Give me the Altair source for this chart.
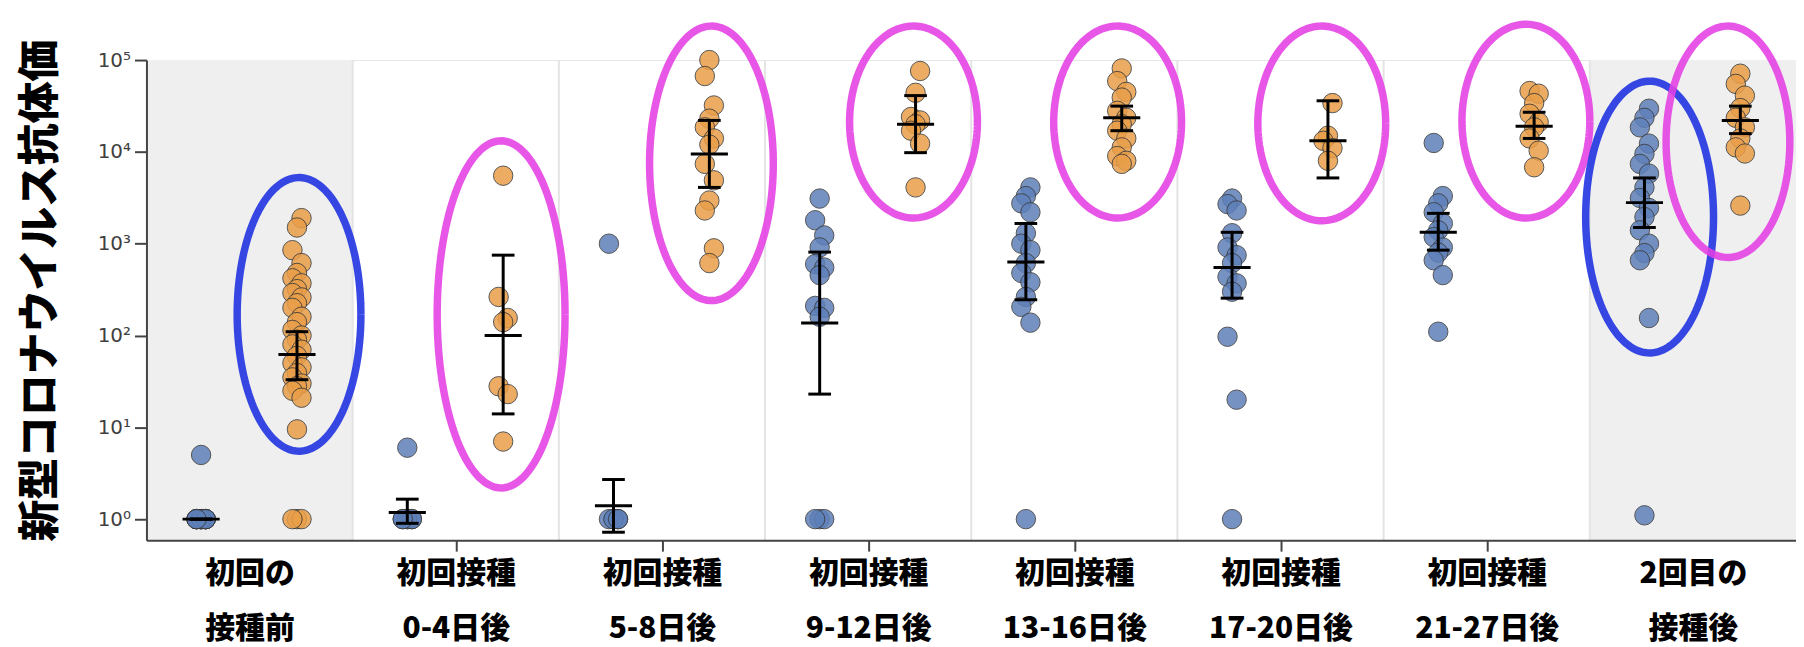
import altair as alt
import pandas as pd

# ---- categories / labels ----
label_top = ["初回の", "初回接種", "初回接種", "初回接種", "初回接種", "初回接種", "初回接種", "2回目の"]
label_bottom = ["接種前", "0-4日後", "5-8日後", "9-12日後", "13-16日後", "17-20日後", "21-27日後", "接種後"]
y_title = "新型コロナウイルス抗体価"
y_ticks = [1, 10, 100, 1000, 10000, 100000]

# ---- individual antibody titers (blue = series A, orange = series B) ----
blue_vals = [
    [1, 1, 1, 1, 1, 1, 1, 1, 1, 1, 1, 1, 5],
    [1, 1, 1, 1, 1, 1, 6],
    [1, 1, 1, 1, 1, 1000],
    [3100, 1800, 1230, 910, 600, 550, 455, 210, 200, 160, 1, 1, 1],
    [4100, 3300, 2750, 2200, 1300, 1000, 850, 615, 480, 380, 263, 205, 138, 1],
    [3100, 2700, 2300, 1300, 910, 750, 615, 435, 370, 300, 97, 20, 1],
    [12500, 3300, 2750, 2200, 1660, 1400, 1180, 910, 800, 660, 455, 110],
    [29500, 23500, 18500, 12300, 9500, 7400, 5800, 4100, 3150, 2450, 1950, 1400,
     1000, 790, 660, 155, 1.1],
]
orange_vals = [
    [1900, 1500, 850, 615, 480, 420, 370, 320, 290, 260, 225, 200, 160, 140, 115,
     100, 90, 80, 70, 60, 50, 45, 39, 35, 30, 28, 25, 21, 9.5, 1, 1, 1],
    [5500, 263, 155, 140, 28, 23, 7],
    [100000, 67000, 32000, 23000, 18500, 14000, 12000, 7400, 4900, 2950, 2300, 890, 615],
    [76000, 44000, 24000, 22000, 20000, 17000, 12300, 4100],
    [81000, 59000, 45000, 39000, 28000, 23500, 20000, 17000, 14000, 11200, 9000, 8000, 7400],
    [34000, 15000, 13200, 11000, 8000],
    [46000, 43000, 34000, 26000, 21000, 18500, 14000, 10300, 6800],
    [71000, 55000, 41000, 30000, 23500, 18500, 14000, 11200, 9600, 2600],
]

# ---- geometric means and 95% CI ----
blue_mean = [1, 1.18, 1.4, 137, 630, 550, 1330, 2800]
blue_lo = [1, 0.9, 0.72, 23, 245, 255, 850, 1500]
blue_hi = [1, 1.65, 2.7, 810, 1660, 1330, 2140, 5200]
orange_mean = [62, 100, 9500, 20000, 23500, 13200, 19000, 22000]
orange_lo = [33, 14, 4100, 9800, 17000, 5200, 14000, 15800]
orange_hi = [110, 750, 22000, 41000, 31500, 36000, 27000, 31500]

# ---- hand-drawn ellipse annotations ----
ell_x = [0.24, 1.22, 2.24, 3.22, 4.21, 5.20, 6.19, 6.79, 7.17]
ell_top = [3.72, 4.12, 5.37, 5.37, 5.37, 5.37, 5.39, 4.77, 5.37]   # log10
ell_bot = [0.74, 0.34, 2.38, 3.28, 3.28, 3.25, 3.28, 1.81, 2.85]   # log10
ell_hw = [0.30, 0.31, 0.30, 0.31, 0.31, 0.31, 0.31, 0.31, 0.30]
ell_col = ["#1b2fe0", "#e43fe4", "#e43fe4", "#e43fe4", "#e43fe4", "#e43fe4",
           "#e43fe4", "#1b2fe0", "#e43fe4"]

shaded = [0, 7]

BLUE = "#5e80b9"
ORANGE = "#e99e48"

# ---- tables ----
rows = []
for g, vals in enumerate(blue_vals):
    for v in vals:
        rows.append({"g": g, "s": "A", "v": v})
for g, vals in enumerate(orange_vals):
    for v in vals:
        rows.append({"g": g, "s": "B", "v": v})
pts = pd.DataFrame(rows)

eb = pd.DataFrame(
    [{"g": g, "s": "A", "m": blue_mean[g], "lo": blue_lo[g], "hi": blue_hi[g]} for g in range(8)]
    + [{"g": g, "s": "B", "m": orange_mean[g], "lo": orange_lo[g], "hi": orange_hi[g]} for g in range(8)]
)

ell = pd.DataFrame({"id": list(range(len(ell_x))), "cx": ell_x, "top": ell_top,
                    "bot": ell_bot, "hw": ell_hw, "col": ell_col})

W, H = 1656, 482

x_scale = alt.Scale(domain=[-0.5, 7.5], nice=False, zero=False)
y_scale = alt.Scale(type="log", domain=[0.59, 100000], nice=False)

lab_arr = "[" + ",".join("['%s','%s']" % (a, b) for a, b in zip(label_top, label_bottom)) + "]"

x_axis = alt.Axis(
    values=list(range(8)), labelExpr=lab_arr + "[datum.value]", title=None, grid=False,
    domainColor="#444444", domainWidth=2,
    tickColor={"condition": {"test": "datum.value == 0 || datum.value == 7", "value": "transparent"},
               "value": "#444444"},
    tickWidth=2, tickSize=11,
    labelFont="Noto Sans CJK JP", labelFontSize=30, labelFontWeight=900, labelColor="black",
    labelLineHeight=55, labelPadding=8, labelOverlap=False, labelFlush=False, zindex=1,
)
y_axis = alt.Axis(
    values=y_ticks,
    labelExpr="'10' + ['⁰','¹','²','³','⁴','⁵'][round(log(datum.value)/LN10)]",
    title=y_title, grid=False, domainColor="#444444", domainWidth=2,
    tickColor="#444444", tickWidth=2, tickSize=12,
    labelFont="DejaVu Sans", labelFontSize=20, labelColor="#404040", labelPadding=4,
    titleFont="Noto Sans CJK JP", titleFontSize=42, titleFontWeight=900, titleColor="black",
    titleAngle=270, titleX=-106, titleY=231, titleAlign="center", titleBaseline="middle",
    zindex=1,
)

def X(f):
    return alt.X(f, scale=x_scale, axis=x_axis)

def Y(f):
    return alt.Y(f, scale=y_scale, axis=y_axis)

bg = alt.Chart(pd.DataFrame({"g": shaded})).transform_calculate(
    x0="datum.g - 0.5", x1="datum.g + 0.5"
).mark_rect(color="#efefef").encode(
    x=X("x0:Q"), x2="x1:Q",
    y=alt.value(0), y2=alt.value(H),
)

seps = alt.Chart(pd.DataFrame({"g": list(range(7))})).transform_calculate(
    b="datum.g + 0.5"
).mark_rule(color="#e4e4e4", strokeWidth=2).encode(
    x=X("b:Q")
)

points = alt.Chart(pts).transform_window(
    rk="row_number()", groupby=["g", "s"], sort=[alt.SortField("v")]
).transform_calculate(
    px="datum.g + (datum.s == 'A' ? -0.235 : 0.23) + ((datum.rk % 3) - 1) * 0.022"
).mark_circle(size=380, opacity=0.85, stroke="#3a3a3a", strokeWidth=1).encode(
    x=X("px:Q"),
    y=Y("v:Q"),
    color=alt.Color("s:N", scale=alt.Scale(domain=["A", "B"], range=[BLUE, ORANGE]), legend=None),
)

eb_base = alt.Chart(eb).transform_calculate(
    px="datum.g + (datum.s == 'A' ? -0.235 : 0.23)"
)
vert = eb_base.mark_rule(color="black", strokeWidth=3).encode(
    x=X("px:Q"), y=Y("lo:Q"), y2="hi:Q",
)
meanl = eb_base.transform_calculate(
    xa="datum.px - 0.09", xb="datum.px + 0.09"
).mark_rule(color="black", strokeWidth=3).encode(
    x=X("xa:Q"), x2="xb:Q", y=Y("m:Q"),
)
caps = eb_base.transform_fold(["lo", "hi"], as_=["k", "cv"]).transform_calculate(
    xa="datum.px - 0.055", xb="datum.px + 0.055"
).mark_rule(color="black", strokeWidth=3).encode(
    x=X("xa:Q"), x2="xb:Q", y=Y("cv:Q"),
)

ellipses = alt.Chart(ell).transform_calculate(
    t="sequence(0, 6.40, 0.04)"
).transform_flatten(["t"]).transform_calculate(
    ex="datum.cx + datum.hw * cos(datum.t)",
    ey="pow(10, (datum.top + datum.bot) / 2 + (datum.top - datum.bot) / 2 * sin(datum.t))",
).mark_line(strokeWidth=7.5, opacity=0.88).encode(
    x=X("ex:Q"), y=Y("ey:Q"),
    detail="id:N", order="t:Q",
    color=alt.Color("col:N", scale=None),
)

chart = alt.layer(bg, seps, points, vert, meanl, caps, ellipses).properties(
    width=W, height=H,
    autosize=alt.AutoSizeParams(type="none"),
    padding={"left": 139, "top": 51, "right": 0, "bottom": 106},
).configure_view(stroke="#e6e6e6")

chart.save("out.html", embed_options={"renderer": "svg", "actions": False})
